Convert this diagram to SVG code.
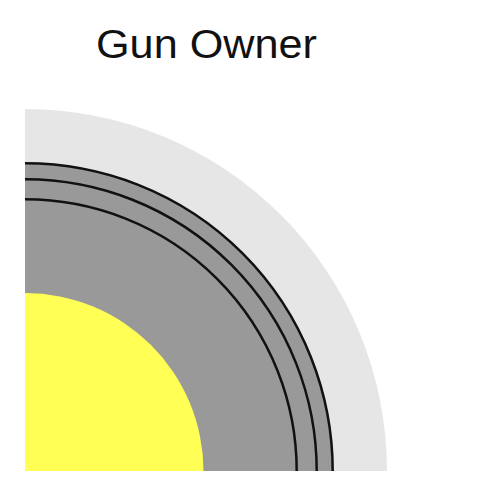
<svg xmlns="http://www.w3.org/2000/svg" width="502" height="498" viewBox="0 0 502 498">
<style>
.ring{fill:none;stroke:#111;stroke-width:2.5}
.title{font-family:"Liberation Sans",Arial,sans-serif;font-size:40px;fill:#111}
</style>
<rect width="502" height="498" fill="#fff"/>
<g id="title"><text class="title" x="96" y="57.5" textLength="221" lengthAdjust="spacingAndGlyphs">Gun Owner</text></g>
<g id="outer"><path d="M25,471 L25,109 A362,362 0 0 1 387,471 Z" fill="#e6e6e6"/></g>
<g id="middle"><path d="M25,471 L25,163.3 A307.7,307.7 0 0 1 332.7,471 Z" fill="#999999"/></g>
<g id="core"><path d="M25,471 L25,293 A178.5,178.5 0 0 1 203.5,471 Z" fill="#ffff55"/></g>
<g id="rings">
<path class="ring" d="M25,163.3 A307.7,307.7 0 0 1 332.7,471"/>
<path class="ring" d="M25,179.3 A291.7,291.7 0 0 1 316.7,471"/>
<path class="ring" d="M25,199.3 A271.7,271.7 0 0 1 296.7,471"/>
</g>
</svg>
